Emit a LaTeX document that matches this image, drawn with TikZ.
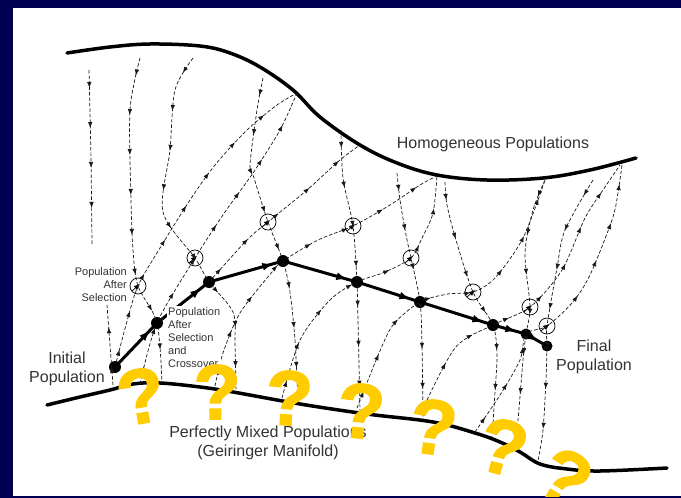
\documentclass[tikz,border=0pt]{standalone}
\usepackage{fontspec}
\setmainfont{Liberation Sans}
\newfontfamily\qfont[FakeBold=1.5]{Liberation Sans}
\usetikzlibrary{arrows.meta,decorations.markings}
\definecolor{slideblue}{RGB}{0,0,82}
\definecolor{qyellow}{RGB}{255,204,0}
\tikzset{
  manifold/.style={line width=3.5pt, line cap=round},
  flowline/.style={black!90, line width=0.7pt, dash pattern=on 3.5pt off 2pt,
    decoration={markings, mark=between positions 18pt and -8pt step 40pt with {\arrow{Latex[length=6pt,width=4.5pt]}}},
    postaction={decorate}},
  trajline/.style={line width=3pt,
    decoration={markings, mark=at position -10pt with {\arrow{Latex[length=11pt,width=8pt]}}},
    postaction={decorate}},
  selarrow/.style={line width=0.7pt, -{Latex[length=6pt,width=5pt]}},
  popdot/.style={circle, fill=black, inner sep=0pt, minimum size=12pt},
  selcirc/.style={circle, draw, line width=0.7pt, inner sep=0pt, minimum size=16pt},
  qmark/.style={text=qyellow, font=\fontsize{78}{78}\qfont\bfseries, inner sep=0pt},
  biglabel/.style={font=\fontsize{16}{19}\selectfont, text=black!80, inner sep=0pt, align=center},
  smalllabel/.style={font=\fontsize{11}{13.2}\selectfont, text=black!80, inner sep=1pt, fill=white}
}

\begin{document}
\begin{tikzpicture}[x=1pt,y=-1pt]
  \useasboundingbox (0,0) rectangle (681,498);
  \fill[slideblue] (0,0) rectangle (681,498);
  \fill[white] (13,8) rectangle (681,496);

  \begin{scope}
  \clip (13,8) rectangle (681,496);

  % the two limiting manifolds
  \draw[manifold] plot[smooth, tension=0.6] coordinates {(67,53) (110,47) (150,44) (200,46) (230,53) (260,67)
     (293,90) (320,117) (360,145) (397,163) (437,175) (487,180) (543,178) (590,170) (636,158)};
  \draw[manifold] plot[smooth, tension=0.6] coordinates {(47,405) (80,397) (110,390) (133,384) (160,383) (200,387)
     (233,392) (300,404) (367,414) (433,422) (475,433) (500,442) (520,452) (540,464) (567,469) (600,471) (667,468)};

  % populations along the run
  \node[popdot] (P0) at (115,367) {};
  \node[popdot] (P1) at (157,323) {};
  \node[popdot] (P2) at (209,282) {};
  \node[popdot] (P3) at (283,261) {};
  \node[popdot] (P4) at (357,282) {};
  \node[popdot] (P5) at (420,302) {};
  \node[popdot] (P6) at (493,325) {};
  \node[popdot, minimum size=11pt] (P7) at (526,334) {};
  \node[popdot, minimum size=11pt] (P8) at (547,346) {};

  % after selection
  \node[selcirc] (C1) at (138,286) {};
  \node[selcirc] (C2) at (195,258) {};
  \node[selcirc] (C3) at (268,222) {};
  \node[selcirc] (C4) at (353,226) {};
  \node[selcirc] (C5) at (411,258) {};
  \node[selcirc] (C6) at (473,292) {};
  \node[selcirc] (C7) at (530,307) {};
  \node[selcirc] (C8) at (547,326) {};
  \foreach \c in {C1,C2,C3,C4,C5,C6,C7,C8}
    \draw[selarrow] ([shift={(-6,5)}]\c.center) -- ([shift={(2,-2)}]\c.center);

  % selection flow (upwards)
  \draw[flowline] plot[smooth, tension=0.5] coordinates {(P0.center) (126,325) (C1.center) (160,248) (190,200) (215,165) (247,130) (277,105) (297,93)};
  \draw[flowline] plot[smooth, tension=0.5] coordinates {(140,384) (P1.center) (C2.center) (225,212) (253,173) (280,130) (297,93)};
  \draw[flowline] plot[smooth, tension=0.5] coordinates {(P2.center) (247,240) (C3.center) (307,190) (340,160) (360,145)};
  \draw[flowline] plot[smooth, tension=0.5] coordinates {(215,386) (223,353) (240,313) (272,272) (P3.center) (318,240) (C4.center) (390,205) (420,185) (437,176)};
  \draw[flowline] plot[smooth, tension=0.5] coordinates {(282,398) (300,340) (330,300) (P4.center) (385,272) (C5.center) (422,238) (433,213) (437,176)};
  \draw[flowline] plot[smooth, tension=0.5] coordinates {(357,408) (377,358) (393,325) (P5.center) (448,294) (C6.center) (495,278) (523,238) (545,180)};
  \draw[flowline] plot[smooth, tension=0.5] coordinates {(420,415) (455,348) (P6.center) (C7.center) (562,270) (585,218) (603,190) (620,165)};
  \draw[flowline] plot[smooth, tension=0.5] coordinates {(475,432) (500,395) (520,360) (P7.center) (C8.center) (572,303) (590,275) (612,220) (618,193) (622,165)};
  \draw[flowline] plot[smooth, tension=0.5] coordinates {(113,385) (110,345) (107,305)};

  % crossover flow (downwards)
  \draw[flowline] plot[smooth, tension=0.5] coordinates {(89,70) (91,160) (92,245)};
  \draw[flowline] plot[smooth, tension=0.5] coordinates {(140,58) (130,110) (131,200) (133,250) (C1.center) (P1.center) (162,383)};
  \draw[flowline] plot[smooth, tension=0.5] coordinates {(193,58) (175,90) (170,150) (163,212) (C2.center) (P2.center) (233,312) (235,345) (236,389)};
  \draw[flowline] plot[smooth, tension=0.5] coordinates {(263,78) (257,110) (250,165) (254,178) (C3.center) (P3.center) (290,292) (295,340) (298,401)};
  \draw[flowline] plot[smooth, tension=0.5] coordinates {(341,130) (343,178) (C4.center) (P4.center) (358,320) (360,411)};
  \draw[flowline] plot[smooth, tension=0.5] coordinates {(397,173) (400,200) (406,235) (C5.center) (P5.center) (422,345) (423,419)};
  \draw[flowline] plot[smooth, tension=0.5] coordinates {(445,182) (447,205) (456,240) (C6.center) (P6.center) (497,355) (495,392) (492,438)};
  \draw[flowline] plot[smooth, tension=0.5] coordinates {(545,180) (533,210) (525,253) (C7.center) (P7.center) (523,360) (518,420) (514,451)};
  \draw[flowline] plot[smooth, tension=0.5] coordinates {(593,180) (565,230) (557,268) (C8.center) (P8.center) (546,380) (543,430) (538,461)};

  % the actual run
  \foreach \a/\b in {P0/P1,P1/P2,P2/P3,P3/P4,P4/P5,P5/P6,P6/P7,P7/P8}
    \draw[trajline] (\a.center) -- (\b.center);

  % labels
  \node[biglabel, anchor=base] (homog) at (493,148) {Homogeneous Populations};
  \node[biglabel, anchor=north] (geir) at (268,425.5) {Perfectly Mixed Populations\\(Geiringer Manifold)};
  \node[biglabel, anchor=north] (init) at (67,351.5) {Initial\\Population};
  \node[biglabel, anchor=north] (final) at (594,339.5) {Final\\Population};
  \node[smalllabel, align=right, anchor=north east] (lblsel) at (128,266) {Population\\After\\Selection};
  \node[smalllabel, align=left, anchor=north west] (lblcross) at (167,306) {Population\\After\\Selection\\and\\Crossover};

  % question marks along the manifold
  \node[qmark, rotate=10] (q1) at (141,396) {?};
  \node[qmark, rotate=0] (q2) at (217,392) {?};
  \node[qmark, rotate=-4] (q3) at (289,398) {?};
  \node[qmark, rotate=-5] (q4) at (361,411) {?};
  \node[qmark, rotate=-8] (q5) at (433,427) {?};
  \node[qmark, rotate=-15] (q6) at (503,447) {?};
  \node[qmark, rotate=-30] (q7) at (565,478) {?};
  \end{scope}
\end{tikzpicture}
\end{document}
